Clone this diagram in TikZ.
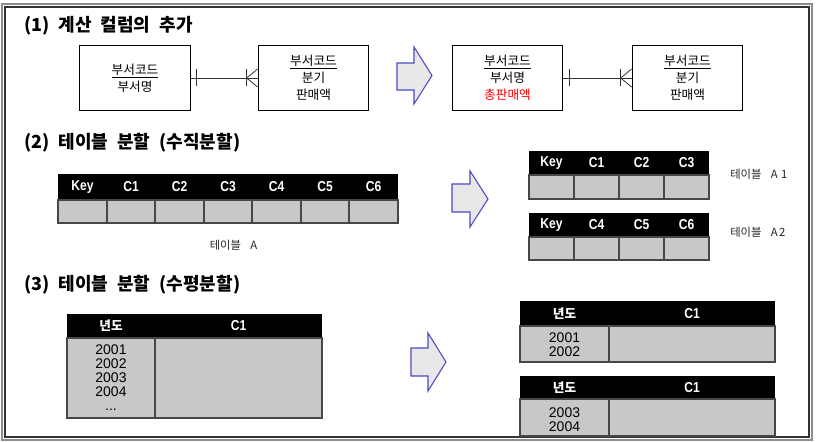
\documentclass[tikz,border=0pt]{standalone}
\usepackage{fontspec}
\setmainfont{Liberation Sans}
\newfontfamily\kr{Noto Sans CJK KR}
\newfontfamily\krt[WordSpace=2.2]{Noto Sans CJK KR}
\newfontfamily\hdrfont[FakeStretch=0.84]{Liberation Sans}
\usetikzlibrary{calc}
\definecolor{cellgray}{HTML}{C8C8C8}
\definecolor{arrowblue}{HTML}{4A4AC4}
\definecolor{arrowfill}{HTML}{E8E8E8}
\definecolor{redtext}{HTML}{FF0000}
\tikzset{
  title/.style={anchor=west,inner sep=0pt,font=\krt\bfseries\fontsize{13.5}{15}\selectfont},
  erbox/.style={draw,line width=0.8pt,minimum width=83pt,minimum height=49pt,align=center,
    font=\kr\fontsize{9.5}{12.8}\selectfont},
  rel/.style={line width=0.6pt,black!80},
  blockarrow/.style={draw=arrowblue,fill=arrowfill,line width=0.8pt,line join=miter},
  hdr/.style={fill=black},
  body/.style={fill=cellgray,draw=black!72,line width=0.8pt},
  htext/.style={text=white,inner sep=0pt,font=\hdrfont\bfseries\fontsize{10.8}{12}\selectfont},
  hktext/.style={text=white,inner sep=0pt,font=\kr\bfseries\fontsize{9.5}{12}\selectfont},
  lbl/.style={inner sep=0pt,text=black!85,font=\kr\fontsize{8.5}{10}\selectfont},
  yrs/.style={inner sep=0pt,align=center,font=\fontsize{10.5}{10.5}\selectfont}
}
% header cell: name, x0, y0, x1, y1, text
\newcommand{\hcell}[6]{%
  \fill[hdr] (#2,#3) rectangle (#4,#5);
  \node[htext] (#1) at ({(#2+#4)/2},{(#3+#5)/2}) {#6};}
\newcommand{\hkcell}[6]{%
  \fill[hdr] (#2,#3) rectangle (#4,#5);
  \node[hktext] (#1) at ({(#2+#4)/2},{(#3+#5)/2}) {#6};}
\newcommand{\bcell}[4]{\draw[body] (#1,#2) rectangle (#3,#4);}
\begin{document}
\begin{tikzpicture}[x=0.75pt,y=-0.75pt]
\useasboundingbox (0,0) rectangle (817,442);
% frame
\draw[black!45,line width=0.8pt] (2,4) rectangle (812,440);
\draw[black!80,line width=1.1pt] (5,7) rectangle (809,437);

% ---------- (1)
\node[title] (t1) at (24,26) {(1) 계산 컬럼의 추가};
\node[erbox] (b1) at (135,78) {\underline{부서코드}\\부서명};
\node[erbox] (b2) at (313.5,78) {\underline{부서코드}\\분기\\판매액};
\draw[rel] (b1.east) -- (b2.west);
\draw[rel] ($(b1.east)+(6,-8.5)$) -- ($(b1.east)+(6,8.5)$);
\draw[rel] ($(b2.west)+(-11,-8.5)$) -- ($(b2.west)+(-11,8.5)$);
\draw[rel] ($(b2.west)+(0,-9)$) -- ($(b2.west)+(-11,0)$) -- ($(b2.west)+(0,9)$);

\draw[blockarrow] (397,63) -- (414,63) -- (414,47) -- (432,75.5) -- (414,104) -- (414,90) -- (397,90) -- cycle;

\node[erbox] (b3) at (507.5,78) {\underline{부서코드}\\부서명\\\textcolor{redtext}{총판매액}};
\node[erbox] (b4) at (687.5,78) {\underline{부서코드}\\분기\\판매액};
\draw[rel] (b3.east) -- (b4.west);
\draw[rel] ($(b3.east)+(6,-8.5)$) -- ($(b3.east)+(6,8.5)$);
\draw[rel] ($(b4.west)+(-11,-8.5)$) -- ($(b4.west)+(-11,8.5)$);
\draw[rel] ($(b4.west)+(0,-9)$) -- ($(b4.west)+(-11,0)$) -- ($(b4.west)+(0,9)$);

% ---------- (2)
\node[title] (t2) at (24,143) {(2) 테이블 분할 (수직분할)};
\hcell{ak}{58}{174}{107}{200}{Key}
\hcell{a1}{107}{174}{155}{200}{C1}
\hcell{a2}{155}{174}{204}{200}{C2}
\hcell{a3}{204}{174}{252}{200}{C3}
\hcell{a4}{252}{174}{301}{200}{C4}
\hcell{a5}{301}{174}{349}{200}{C5}
\hcell{a6}{349}{174}{398}{200}{C6}
\bcell{58}{200}{107}{223}
\bcell{107}{200}{155}{223}
\bcell{155}{200}{204}{223}
\bcell{204}{200}{252}{223}
\bcell{252}{200}{301}{223}
\bcell{301}{200}{349}{223}
\bcell{349}{200}{398}{223}
\node[lbl] (la) at (233.5,245) {테이블\hspace{7pt}A};

\draw[blockarrow] (452,184) -- (470,184) -- (470,171) -- (488,199) -- (470,227) -- (470,212) -- (452,212) -- cycle;

\hcell{bk}{529}{151}{574}{175}{Key}
\hcell{b1h}{574}{151}{619}{175}{C1}
\hcell{b2h}{619}{151}{664}{175}{C2}
\hcell{b3h}{664}{151}{709}{175}{C3}
\bcell{529}{175}{574}{199}
\bcell{574}{175}{619}{199}
\bcell{619}{175}{664}{199}
\bcell{664}{175}{709}{199}
\node[lbl,anchor=west] (la1) at (730,174) {테이블\hspace{7pt}A\hspace{2.5pt}1};

\hcell{ck}{529}{213}{574}{237}{Key}
\hcell{c4h}{574}{213}{619}{237}{C4}
\hcell{c5h}{619}{213}{664}{237}{C5}
\hcell{c6h}{664}{213}{709}{237}{C6}
\bcell{529}{237}{574}{260}
\bcell{574}{237}{619}{260}
\bcell{619}{237}{664}{260}
\bcell{664}{237}{709}{260}
\node[lbl,anchor=west] (la2) at (730,232) {테이블\hspace{7pt}A\hspace{1pt}2};

% ---------- (3)
\node[title] (t3) at (24,285) {(3) 테이블 분할 (수평분할)};
\hkcell{dy}{67}{314}{155}{338}{년도}
\hcell{dc}{155}{314}{322}{338}{C1}
\bcell{67}{338}{155}{418}
\bcell{155}{338}{322}{418}
\node[yrs] (dyr) at (111,378) {2001\\2002\\2003\\2004\\...};

\draw[blockarrow] (411,348) -- (428,348) -- (428,333) -- (446,362) -- (428,391) -- (428,376) -- (411,376) -- cycle;

\hkcell{ey}{520}{301}{609}{326}{년도}
\hcell{ec}{609}{301}{775}{326}{C1}
\bcell{520}{326}{609}{362}
\bcell{609}{326}{775}{362}
\node[yrs] (eyr) at (564.5,345) {2001\\2002};

\hkcell{fy}{520}{376}{609}{399}{년도}
\hcell{fc}{609}{376}{775}{399}{C1}
\bcell{520}{399}{609}{436}
\bcell{609}{399}{775}{436}
\node[yrs] (fyr) at (564.5,419.5) {2003\\2004};
\end{tikzpicture}
\end{document}
